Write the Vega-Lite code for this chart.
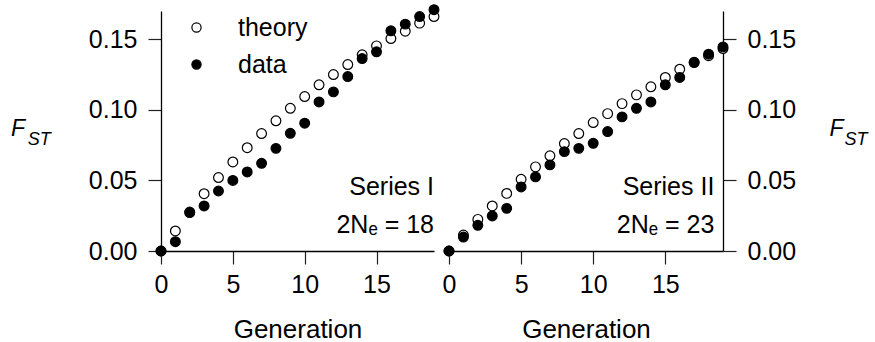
{
  "$schema": "https://vega.github.io/schema/vega-lite/v6.json",
  "padding": {"left": 10, "top": 2, "right": 3, "bottom": 0},
  "background": "white",
  "spacing": 15,
  "bounds": "flush",
  "config": {
    "font": "Liberation Sans",
    "view": {"stroke": null},
    "axis": {
      "grid": false,
      "domainColor": "black",
      "domainWidth": 1.3,
      "tickColor": "#222222",
      "tickWidth": 1.2,
      "tickSize": 13,
      "labelFont": "Liberation Sans",
      "labelFontSize": 25,
      "labelColor": "black",
      "titleFont": "Liberation Sans",
      "titleFontSize": 26,
      "titleFontWeight": "normal",
      "titleColor": "black"
    },
    "legend": {
      "labelFont": "Liberation Sans",
      "labelFontSize": 25,
      "labelColor": "black"
    }
  },
  "datasets": {
    "pts": [
      {"s": "I", "type": "theory", "g": 0, "f": 0},
      {"s": "I", "type": "theory", "g": 1, "f": 0.0142},
      {"s": "I", "type": "theory", "g": 2, "f": 0.0276},
      {"s": "I", "type": "theory", "g": 3, "f": 0.0406},
      {"s": "I", "type": "theory", "g": 4, "f": 0.052},
      {"s": "I", "type": "theory", "g": 5, "f": 0.0631},
      {"s": "I", "type": "theory", "g": 6, "f": 0.0732},
      {"s": "I", "type": "theory", "g": 7, "f": 0.0832},
      {"s": "I", "type": "theory", "g": 8, "f": 0.0922},
      {"s": "I", "type": "theory", "g": 9, "f": 0.1011},
      {"s": "I", "type": "theory", "g": 10, "f": 0.1094},
      {"s": "I", "type": "theory", "g": 11, "f": 0.1177},
      {"s": "I", "type": "theory", "g": 12, "f": 0.125},
      {"s": "I", "type": "theory", "g": 13, "f": 0.1321},
      {"s": "I", "type": "theory", "g": 14, "f": 0.139},
      {"s": "I", "type": "theory", "g": 15, "f": 0.1453},
      {"s": "I", "type": "theory", "g": 16, "f": 0.1505},
      {"s": "I", "type": "theory", "g": 17, "f": 0.1557},
      {"s": "I", "type": "theory", "g": 18, "f": 0.1614},
      {"s": "I", "type": "theory", "g": 19, "f": 0.1661},
      {"s": "I", "type": "data", "g": 0, "f": 0},
      {"s": "I", "type": "data", "g": 1, "f": 0.0066},
      {"s": "I", "type": "data", "g": 2, "f": 0.0272},
      {"s": "I", "type": "data", "g": 3, "f": 0.0319},
      {"s": "I", "type": "data", "g": 4, "f": 0.0425},
      {"s": "I", "type": "data", "g": 5, "f": 0.05},
      {"s": "I", "type": "data", "g": 6, "f": 0.056},
      {"s": "I", "type": "data", "g": 7, "f": 0.0621},
      {"s": "I", "type": "data", "g": 8, "f": 0.0727},
      {"s": "I", "type": "data", "g": 9, "f": 0.0834},
      {"s": "I", "type": "data", "g": 10, "f": 0.0905},
      {"s": "I", "type": "data", "g": 11, "f": 0.1056},
      {"s": "I", "type": "data", "g": 12, "f": 0.1127},
      {"s": "I", "type": "data", "g": 13, "f": 0.1236},
      {"s": "I", "type": "data", "g": 14, "f": 0.1363},
      {"s": "I", "type": "data", "g": 15, "f": 0.1411},
      {"s": "I", "type": "data", "g": 16, "f": 0.156},
      {"s": "I", "type": "data", "g": 17, "f": 0.1607},
      {"s": "I", "type": "data", "g": 18, "f": 0.1661},
      {"s": "I", "type": "data", "g": 19, "f": 0.1709},
      {"s": "II", "type": "theory", "g": 0, "f": 0},
      {"s": "II", "type": "theory", "g": 1, "f": 0.0113},
      {"s": "II", "type": "theory", "g": 2, "f": 0.0224},
      {"s": "II", "type": "theory", "g": 3, "f": 0.0319},
      {"s": "II", "type": "theory", "g": 4, "f": 0.0408},
      {"s": "II", "type": "theory", "g": 5, "f": 0.0508},
      {"s": "II", "type": "theory", "g": 6, "f": 0.0596},
      {"s": "II", "type": "theory", "g": 7, "f": 0.0674},
      {"s": "II", "type": "theory", "g": 8, "f": 0.0761},
      {"s": "II", "type": "theory", "g": 9, "f": 0.0832},
      {"s": "II", "type": "theory", "g": 10, "f": 0.091},
      {"s": "II", "type": "theory", "g": 11, "f": 0.0973},
      {"s": "II", "type": "theory", "g": 12, "f": 0.1044},
      {"s": "II", "type": "theory", "g": 13, "f": 0.1106},
      {"s": "II", "type": "theory", "g": 14, "f": 0.1163},
      {"s": "II", "type": "theory", "g": 15, "f": 0.1229},
      {"s": "II", "type": "theory", "g": 16, "f": 0.1288},
      {"s": "II", "type": "theory", "g": 17, "f": 0.1337},
      {"s": "II", "type": "theory", "g": 18, "f": 0.1383},
      {"s": "II", "type": "theory", "g": 19, "f": 0.1434},
      {"s": "II", "type": "data", "g": 0, "f": 0},
      {"s": "II", "type": "data", "g": 1, "f": 0.0099},
      {"s": "II", "type": "data", "g": 2, "f": 0.0182},
      {"s": "II", "type": "data", "g": 3, "f": 0.0248},
      {"s": "II", "type": "data", "g": 4, "f": 0.0302},
      {"s": "II", "type": "data", "g": 5, "f": 0.0454},
      {"s": "II", "type": "data", "g": 6, "f": 0.0525},
      {"s": "II", "type": "data", "g": 7, "f": 0.061},
      {"s": "II", "type": "data", "g": 8, "f": 0.0704},
      {"s": "II", "type": "data", "g": 9, "f": 0.0727},
      {"s": "II", "type": "data", "g": 10, "f": 0.0763},
      {"s": "II", "type": "data", "g": 11, "f": 0.0846},
      {"s": "II", "type": "data", "g": 12, "f": 0.095},
      {"s": "II", "type": "data", "g": 13, "f": 0.1011},
      {"s": "II", "type": "data", "g": 14, "f": 0.1056},
      {"s": "II", "type": "data", "g": 15, "f": 0.1177},
      {"s": "II", "type": "data", "g": 16, "f": 0.1229},
      {"s": "II", "type": "data", "g": 17, "f": 0.1335},
      {"s": "II", "type": "data", "g": 18, "f": 0.1394},
      {"s": "II", "type": "data", "g": 19, "f": 0.1446}
    ],
    "notes": [
      {"s": "I", "x": 19, "y": 0.04, "label": "Series I"},
      {"s": "I", "x": 19, "y": 0.013, "label": "2Nₑ = 18"},
      {"s": "II", "x": 18.4, "y": 0.04, "label": "Series II"},
      {"s": "II", "x": 18.4, "y": 0.013, "label": "2Nₑ = 23"}
    ]
  },
  "hconcat": [
    {
      "width": 273,
      "height": 240,
      "layer": [
        {
          "data": {"name": "pts"},
          "transform": [{"filter": "datum.s === 'I' && datum.type === 'theory'"}],
          "mark": {"type": "point", "shape": "circle", "filled": true, "opacity": 1, "size": 95, "stroke": "black", "strokeWidth": 1.2, "clip": false},
          "encoding": {
            "x": {"field": "g", "type": "quantitative", "scale": {"domain": [0, 19], "nice": false, "zero": false},
                  "axis": {"values": [0, 5, 10, 15], "title": "Generation", "labelPadding": 8, "titlePadding": 19, "labelFlush": false}},
            "y": {"field": "f", "type": "quantitative", "scale": {"domain": [0, 0.17], "nice": false},
                  "axis": {"orient": "left", "values": [0, 0.05, 0.1, 0.15], "format": ".2f", "labelPadding": 11,
                           "title": "F", "titleAngle": 0, "titleAlign": "left", "titleBaseline": "alphabetic",
                           "titleX": -150.5, "titleY": 124.7, "titleFontStyle": "italic", "titleFontSize": 23}},
            "fill": {"field": "type", "type": "nominal", "scale": {"domain": ["theory", "data"], "range": ["white", "black"]},
                     "legend": {"title": null, "orient": "none", "legendX": 23, "legendY": 4, "padding": 0,
                                "symbolType": "circle", "symbolSize": 85, "symbolOpacity": 1, "symbolStrokeColor": "black", "symbolStrokeWidth": 1.2,
                                "labelOffset": 29, "rowPadding": 11}}
          }
        },
        {
          "data": {"name": "pts"},
          "transform": [{"filter": "datum.s === 'I' && datum.type === 'data'"}],
          "mark": {"type": "point", "shape": "circle", "filled": true, "opacity": 1, "size": 95, "stroke": "black", "strokeWidth": 1.2, "clip": false},
          "encoding": {
            "x": {"field": "g", "type": "quantitative"},
            "y": {"field": "f", "type": "quantitative",
                  "axis": {"orient": "left", "domain": false, "ticks": false, "labels": false,
                           "title": "ST", "titleAngle": 0, "titleAlign": "left", "titleBaseline": "alphabetic",
                           "titleX": -133.8, "titleY": 133.4, "titleFontStyle": "italic", "titleFontSize": 18}},
            "fill": {"field": "type", "type": "nominal"}
          }
        },
        {
          "data": {"name": "notes"},
          "transform": [{"filter": "datum.s === 'I'"}],
          "mark": {"type": "text", "align": "right", "baseline": "alphabetic", "fontSize": 25, "font": "Liberation Sans", "color": "black"},
          "encoding": {
            "x": {"field": "x", "type": "quantitative"},
            "y": {"field": "y", "type": "quantitative", "axis": null},
            "text": {"field": "label"}
          }
        }
      ],
      "resolve": {"axis": {"y": "independent"}}
    },
    {
      "width": 274,
      "height": 240,
      "layer": [
        {
          "data": {"name": "pts"},
          "transform": [{"filter": "datum.s === 'II' && datum.type === 'theory'"}],
          "mark": {"type": "point", "shape": "circle", "filled": true, "opacity": 1, "size": 95, "stroke": "black", "strokeWidth": 1.2, "clip": false},
          "encoding": {
            "x": {"field": "g", "type": "quantitative", "scale": {"domain": [0, 19], "nice": false, "zero": false},
                  "axis": {"values": [0, 5, 10, 15], "title": "Generation", "labelPadding": 8, "titlePadding": 19, "labelFlush": false}},
            "y": {"field": "f", "type": "quantitative", "scale": {"domain": [0, 0.17], "nice": false},
                  "axis": {"orient": "right", "values": [0, 0.05, 0.1, 0.15], "format": ".2f", "labelPadding": 11,
                           "title": "F", "titleAngle": 0, "titleAlign": "left", "titleBaseline": "alphabetic",
                           "titleX": 106, "titleY": 124.7, "titleFontStyle": "italic", "titleFontSize": 23}},
            "fill": {"field": "type", "type": "nominal", "legend": null}
          }
        },
        {
          "data": {"name": "pts"},
          "transform": [{"filter": "datum.s === 'II' && datum.type === 'data'"}],
          "mark": {"type": "point", "shape": "circle", "filled": true, "opacity": 1, "size": 95, "stroke": "black", "strokeWidth": 1.2, "clip": false},
          "encoding": {
            "x": {"field": "g", "type": "quantitative"},
            "y": {"field": "f", "type": "quantitative",
                  "axis": {"orient": "right", "domain": false, "ticks": false, "labels": false,
                           "title": "ST", "titleAngle": 0, "titleAlign": "left", "titleBaseline": "alphabetic",
                           "titleX": 121, "titleY": 133.4, "titleFontStyle": "italic", "titleFontSize": 18}},
            "fill": {"field": "type", "type": "nominal", "legend": null}
          }
        },
        {
          "data": {"name": "notes"},
          "transform": [{"filter": "datum.s === 'II'"}],
          "mark": {"type": "text", "align": "right", "baseline": "alphabetic", "fontSize": 25, "font": "Liberation Sans", "color": "black"},
          "encoding": {
            "x": {"field": "x", "type": "quantitative"},
            "y": {"field": "y", "type": "quantitative", "axis": null},
            "text": {"field": "label"}
          }
        }
      ],
      "resolve": {"axis": {"y": "independent"}}
    }
  ]
}
